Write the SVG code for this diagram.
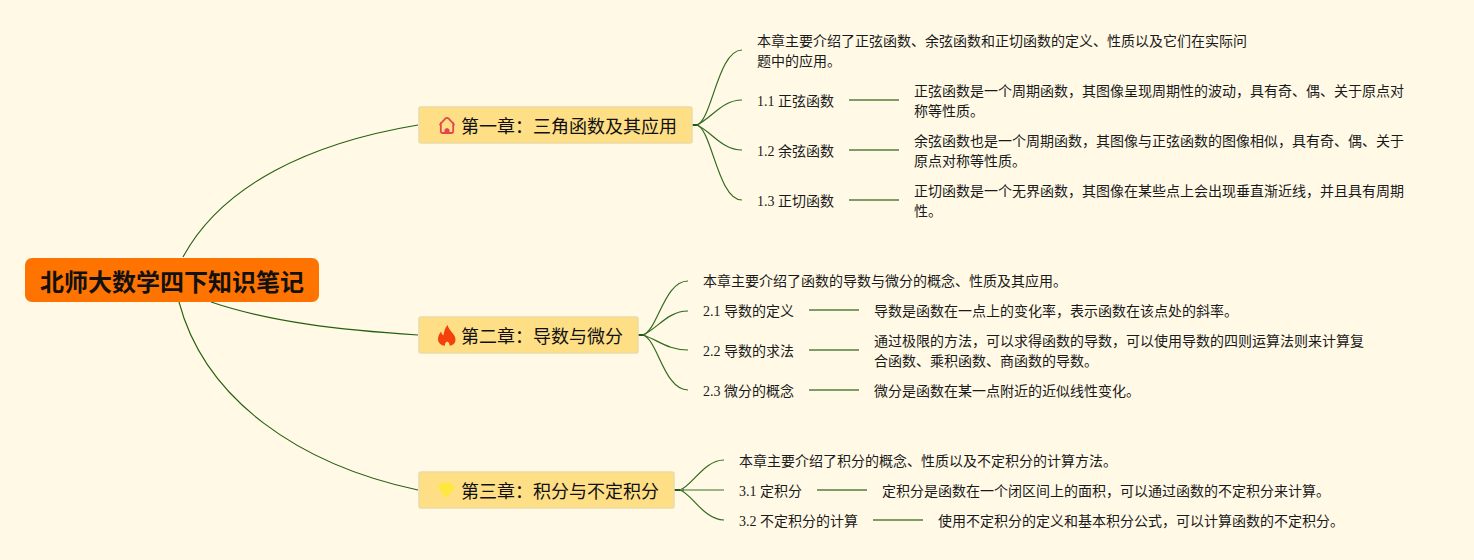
<svg xmlns="http://www.w3.org/2000/svg" width="1474" height="560" viewBox="0 0 1474 560">
<style>
text{font-family:"Liberation Serif","Noto Sans CJK SC",serif;fill:#1a1a1a}
.t{font-size:14px}
.c{font-size:18px;fill:#111}
.r{font-size:24px;font-weight:700;font-family:"Liberation Sans","Noto Sans CJK SC",sans-serif;fill:#111}
.box{fill:#ffdf85;stroke:#eadba6;stroke-width:1.5}
.l{fill:none;stroke:#24600f;stroke-width:1.1}
.f{fill:none;stroke:#2f6b1e;stroke-width:1.2}
.k{fill:none;stroke:#1f5c0f;stroke-width:2}
.s{fill:none;stroke:#7f9c66;stroke-width:2}
</style>
<rect width="1474" height="560" fill="#fff9e6"/>
<g id="connectors">
<path class="l" d="M183 257C222 185 310 143 418 125"/>
<path class="l" d="M211 302C270 322 340 330 418 335"/>
<path class="l" d="M179 302C205 400 300 465 418 490"/>
<path class="k" d="M692 125H698M638 335H644M674 490H684"/>
<path class="f" d="M697 125C712 120 718 50 742 50"/>
<path class="f" d="M697 125C712 118 722 100 742 100"/>
<path class="f" d="M697 125C712 132 722 150 742 150"/>
<path class="f" d="M697 125C712 130 718 200 742 200"/>
<path class="f" d="M643 335C658 330 664 281 688 281"/>
<path class="f" d="M643 335C658 328 668 311 688 311"/>
<path class="f" d="M643 335C658 340 668 350 688 350"/>
<path class="f" d="M643 335C658 340 664 390 688 390"/>
<path class="f" d="M680 490C692 486 704 460 724 460"/>
<path class="s" d="M680 490H724" style="stroke-width:1.500"/>
<path class="f" d="M680 490C692 494 704 520 724 520"/>
<path class="s" d="M849 100H899M849 150H899M849 200H899M809 310H859M809 350H859M809 390H859M817 490H867M873 520H923"/>
</g>
<g id="root"><rect x="25" y="258" width="294" height="44" rx="7" fill="#ff7300"/><text class="r" x="40" y="291">北师大数学四下知识笔记</text></g>
<g id="ch1"><rect class="box" x="419" y="107" width="273" height="36" rx="2"/>
<path d="M440 124.500L445.500 118.500Q447 117.200 448.500 118.500L454 124.500M440.800 123V131.500Q440.800 133 442.300 133H451.700Q453.200 133 453.200 131.500V123" fill="none" stroke="#e2474f" stroke-width="1.800" stroke-linecap="round"/><path d="M444.500 133V129.500Q447 126.500 449.500 129.500V133Z" fill="#e2474f"/>
<text class="c" x="461" y="133">第一章：三角函数及其应用</text></g>
<g id="ch2"><rect class="box" x="419" y="317" width="219" height="36" rx="2"/>
<path d="M447.500 325C449 331 455.500 334 455.500 339.500C455.500 343.500 452.500 345.500 449.500 345.800C450 344 449 342.500 447 341.500C445.500 342.500 444.500 344 445 345.800C441 345.500 438 343 438 339C438 336 439.500 334 441 331.500C441.500 333.500 442.300 334.800 443.500 335.300C444 331.500 445 328 447.500 325Z" fill="#f4410c"/>
<text class="c" x="461" y="343">第二章：导数与微分</text></g>
<g id="ch3"><rect class="box" x="419" y="472" width="255" height="36" rx="2"/>
<path d="M441.500 482.500H450.500L455 487.500L446 498L437.500 487.500Z" fill="#ffe740"/>
<text class="c" x="461" y="498">第三章：积分与不定积分</text></g>
<g id="n0"><text class="t" x="757" y="46">本章主要介绍了正弦函数、余弦函数和正切函数的定义、性质以及它们在实际问</text><text class="t" x="757" y="66">题中的应用。</text></g>
<g id="n11"><text class="t" x="757" y="106">1.1 正弦函数</text></g>
<g id="n11d"><text class="t" x="914" y="96">正弦函数是一个周期函数，其图像呈现周期性的波动，具有奇、偶、关于原点对</text><text class="t" x="914" y="116">称等性质。</text></g>
<g id="n12"><text class="t" x="757" y="156">1.2 余弦函数</text></g>
<g id="n12d"><text class="t" x="914" y="146">余弦函数也是一个周期函数，其图像与正弦函数的图像相似，具有奇、偶、关于</text><text class="t" x="914" y="166">原点对称等性质。</text></g>
<g id="n13"><text class="t" x="757" y="206">1.3 正切函数</text></g>
<g id="n13d"><text class="t" x="914" y="196">正切函数是一个无界函数，其图像在某些点上会出现垂直渐近线，并且具有周期</text><text class="t" x="914" y="216">性。</text></g>
<g id="n2"><text class="t" x="703" y="286">本章主要介绍了函数的导数与微分的概念、性质及其应用。</text></g>
<g id="n21"><text class="t" x="703" y="316">2.1 导数的定义</text></g>
<g id="n21d"><text class="t" x="874" y="316">导数是函数在一点上的变化率，表示函数在该点处的斜率。</text></g>
<g id="n22"><text class="t" x="703" y="356">2.2 导数的求法</text></g>
<g id="n22d"><text class="t" x="874" y="346">通过极限的方法，可以求得函数的导数，可以使用导数的四则运算法则来计算复</text><text class="t" x="874" y="366">合函数、乘积函数、商函数的导数。</text></g>
<g id="n23"><text class="t" x="703" y="396">2.3 微分的概念</text></g>
<g id="n23d"><text class="t" x="874" y="396">微分是函数在某一点附近的近似线性变化。</text></g>
<g id="n3"><text class="t" x="739" y="466">本章主要介绍了积分的概念、性质以及不定积分的计算方法。</text></g>
<g id="n31"><text class="t" x="739" y="496">3.1 定积分</text></g>
<g id="n31d"><text class="t" x="882" y="496">定积分是函数在一个闭区间上的面积，可以通过函数的不定积分来计算。</text></g>
<g id="n32"><text class="t" x="739" y="526">3.2 不定积分的计算</text></g>
<g id="n32d"><text class="t" x="938" y="526">使用不定积分的定义和基本积分公式，可以计算函数的不定积分。</text></g>
</svg>
